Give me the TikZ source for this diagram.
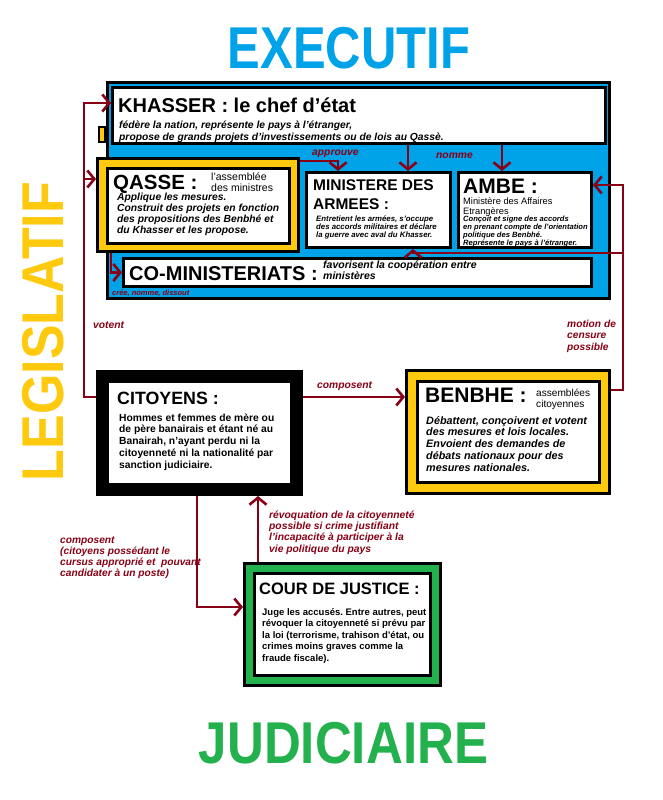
\documentclass[tikz,border=0pt]{standalone}
\usepackage{graphicx}
\usepackage{fontspec}
\setmainfont{Liberation Sans}
\usetikzlibrary{arrows.meta}
\frenchspacing

\definecolor{execblue}{RGB}{0,162,232}
\definecolor{legyellow}{RGB}{255,201,14}
\definecolor{judgreen}{RGB}{34,177,76}
\definecolor{linkred}{RGB}{136,0,21}
\newcommand{\fsz}[2]{\fontsize{#1}{#2}\selectfont}

\begin{document}
\begin{tikzpicture}[x=1pt, y=-1pt,
    panel/.style={draw=black, line width=3pt, fill=white, inner sep=0pt},
    txt/.style={anchor=base west, inner sep=0pt, align=left},
    link/.style={draw=linkred, line width=2.6pt, -{Straight Barb[length=7pt,width=17pt]}},
    lbl/.style={txt, text=linkred, font=\bfseries\itshape\fsz{10.3}{11.3}},
    title/.style={anchor=base, inner sep=0pt, font=\bfseries\fsz{59}{59}}]

    \useasboundingbox[fill=white] (0,0) rectangle (663,800);

    % Titles
    \node[title, text=execblue] (executif) at (349,68) {\scalebox{0.83}[1]{EXECUTIF}};
    \node[title, text=judgreen] (judiciaire) at (343.5,763) {\scalebox{0.865}[1]{JUDICIAIRE}};
    \node[title, text=legyellow, rotate=90] (legislatif) at (63,331.5) {\scalebox{0.88}[1]{LEGISLATIF}};

    % Executive panel
    \node[panel, fill=execblue, minimum width=502pt, minimum height=216pt] (execpanel) at (358.5,190.5) {};
    \filldraw[fill=legyellow, draw=black, line width=1.5pt] (99,127) rectangle (105,142);

    % Boxes
    \node[panel, minimum width=493pt, minimum height=56pt] (khasser) at (359,115.5) {};
    \node[panel, fill=legyellow, minimum width=201pt, minimum height=93pt] (qasse) at (198,205) {};
    \node[panel, minimum width=182pt, minimum height=75pt] (qassein) at (198.5,206) {};
    \node[panel, minimum width=144pt, minimum height=75pt] (ministere) at (378.5,210) {};
    \node[panel, minimum width=133pt, minimum height=75pt] (ambe) at (525,210) {};
    \node[panel, minimum width=468pt, minimum height=28pt] (comin) at (357.5,272.5) {};
    \node[panel, line width=13pt, minimum width=194pt, minimum height=113pt] (citoyens) at (199.5,433) {};
    \node[panel, fill=legyellow, minimum width=203pt, minimum height=123pt] (benbhe) at (508,432) {};
    \node[panel, minimum width=182pt, minimum height=101pt] (benbhein) at (508.5,432) {};
    \node[panel, fill=judgreen, minimum width=196pt, minimum height=122pt] (cour) at (342.5,624.5) {};
    \node[panel, minimum width=176pt, minimum height=102pt] (courin) at (342.5,624.5) {};

    % Turning points
    \coordinate (vote) at (84,397);
    \coordinate (kin) at (84,103);
    \coordinate (qin) at (84,179);
    \coordinate (cree) at (111,273);
    \coordinate (appr) at (338,161);
    \coordinate (nm1) at (408,0);
    \coordinate (nm2) at (502,0);
    \coordinate (comp) at (0,397);
    \coordinate (cens) at (623,390);
    \coordinate (censtop) at (623,185);
    \coordinate (censmid) at (623,253);
    \coordinate (censmin) at (413,253);
    \coordinate (jdown) at (197,607);
    \coordinate (jup) at (258,0);

    % Connectors
    \draw[link] (citoyens.west |- vote) -- (vote) |- (khasser.west |- kin);
    \draw[link] (qin) -- (qasse.west |- qin);
    \draw[link] (qasse.south -| cree) |- (comin.west);
    \draw[link] (qasse.east |- appr) -| (ministere.north -| appr);
    \draw[link] (khasser.south -| nm1) -- (ministere.north -| nm1);
    \draw[link] (khasser.south -| nm2) -- (ambe.north -| nm2);
    \draw[link] (citoyens.east |- comp) -- (benbhe.west |- comp);
    \draw[link] (benbhe.east |- cens) -| (censtop) -- (ambe.east |- censtop);
    \draw[link] (censmid) -| (ministere.south -| censmin);
    \draw[link] (citoyens.south -| jdown) |- (cour.west |- jdown);
    \draw[link] (cour.north -| jup) -- (citoyens.south -| jup);

    % Box texts (multi-line nodes sit on their last baseline)
    \node[txt, font=\bfseries\fsz{20}{20}] (khtitle) at (118,112) {KHASSER : le chef d'état};
    \node[txt, font=\bfseries\itshape\fsz{10.3}{12}] (khtext) at (119,140)
        {fédère la nation, représente le pays à l'étranger,\\propose de grands projets d'investissements ou de lois au Qassè.};

    \node[txt, font=\bfseries\fsz{20.5}{20.5}] (qstitle) at (113,189) {QASSE :};
    \node[txt, font=\fsz{10.5}{11}] (qssub) at (211,191) {l'assemblée\\des ministres};
    \node[txt, font=\bfseries\itshape\fsz{10.3}{10.7}] (qstext) at (117,233)
        {Applique les mesures.\\Construit des projets en fonction\\des propositions des Benbhé et\\du Khasser et les propose.};

    \node[txt, font=\bfseries\fsz{15.5}{19}] (mntitle) at (313,209) {MINISTERE DES\\ARMEES :};
    \node[txt, font=\bfseries\itshape\fsz{7.8}{8}] (mntext) at (316,237)
        {Entretient les armées, s'occupe\\des accords militaires et déclare\\la guerre avec aval du Khasser.};

    \node[txt, font=\bfseries\fsz{21}{21}] (amtitle) at (463,193) {AMBE :};
    \node[txt, font=\fsz{9.3}{10}] (amsub) at (463,214) {Ministère des Affaires\\Etrangères};
    \node[txt, font=\bfseries\itshape\fsz{7.6}{7.7}] (amtext) at (463,245)
        {Conçoit et signe des accords\\en prenant compte de l'orientation\\politique des Benbhé.\\Représente le pays à l'étranger.};

    \node[txt, font=\bfseries\fsz{20}{20}] (cmtitle) at (129,280) {CO-MINISTERIATS :};
    \node[txt, font=\bfseries\itshape\fsz{10.5}{11.5}] (cmtext) at (323,279.5) {favorisent la coopération entre\\ministères};

    \node[txt, font=\bfseries\fsz{17.8}{17.8}] (cttitle) at (117,404) {CITOYENS :};
    \node[txt, font=\bfseries\fsz{10.3}{11.75}] (cttext) at (119,468)
        {Hommes et femmes de mère ou\\de père banairais et étant né au\\Banairah, n'ayant perdu ni la\\citoyenneté ni la nationalité par\\sanction judiciaire.};

    \node[txt, font=\bfseries\fsz{21}{21}] (bntitle) at (425,402) {BENBHE :};
    \node[txt, font=\fsz{10.1}{11}] (bnsub) at (536,407) {assemblées\\citoyennes};
    \node[txt, font=\bfseries\itshape\fsz{10.8}{11.75}] (bntext) at (426,471)
        {Débattent, conçoivent et votent\\des mesures et lois locales.\\Envoient des demandes de\\débats nationaux pour des\\mesures nationales.};

    \node[txt, font=\bfseries\fsz{16.5}{16.5}] (crtitle) at (259,594) {COUR DE JUSTICE :};
    \node[txt, font=\bfseries\fsz{9.5}{11.5}] (crtext) at (262,661)
        {Juge les accusés. Entre autres, peut\\révoquer la citoyenneté si prévu par\\la loi (terrorisme, trahison d'état, ou\\crimes moins graves comme la\\fraude fiscale).};

    % Connector labels
    \node[lbl, font=\bfseries\itshape\fsz{7.5}{7.5}] (lcree) at (112,295.5) {crée, nomme, dissout};
    \node[lbl] (lappr) at (312,155) {approuve};
    \node[lbl] (lnomme) at (436,158) {nomme};
    \node[lbl] (lvote) at (93,328) {votent};
    \node[lbl] (lcomp) at (317,388) {composent};
    \node[lbl, font=\bfseries\itshape\fsz{10.2}{11.7}] (lcens) at (567,350.4) {motion de\\censure\\possible};
    \node[lbl] (lrevoc) at (269,552)
        {révoquation de la citoyenneté\\possible si crime justifiant\\l'incapacité à participer à la\\vie politique du pays};
    \node[lbl, font=\bfseries\itshape\fsz{10.2}{11}] (lcour) at (60,576)
        {composent\\(citoyens possédant le\\cursus approprié et~ pouvant\\candidater à un poste)};
\end{tikzpicture}
\end{document}
